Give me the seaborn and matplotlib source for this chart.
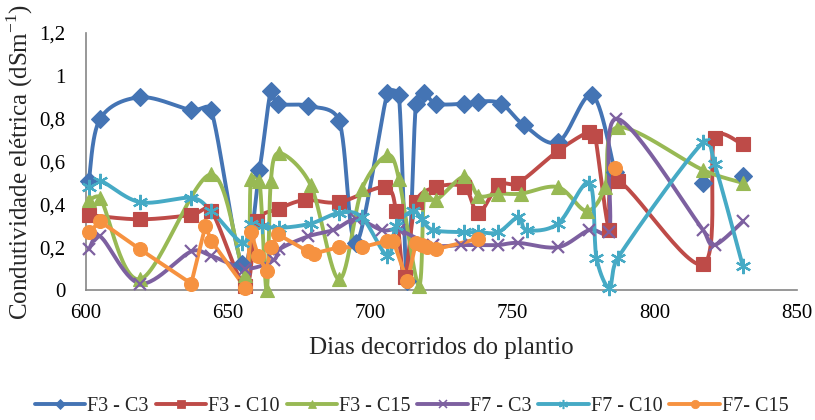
import numpy as np
import matplotlib
matplotlib.use('Agg')
import matplotlib.pyplot as plt
from matplotlib.lines import Line2D
import seaborn as sns

# Dados (dias decorridos do plantio x condutividade eletrica)
dias_f3c3 = [601, 605, 619, 637, 644, 655, 661, 665, 667.5, 678, 689, 695, 706, 710, 713, 716,
             719, 723, 733, 738, 746, 754, 766, 778, 786, 800, 817, 824, 831]
ce_f3c3 = [0.51, 0.80, 0.90, 0.84, 0.84, 0.12, 0.56, 0.93, 0.87, 0.86, 0.79, 0.22, 0.92, 0.91, 0.04, 0.87,
           0.92, 0.87, 0.87, 0.88, 0.87, 0.77, 0.69, 0.91, 0.55, np.nan, 0.50, np.nan, 0.53]

dias_f3c10 = [601, 619, 637, 644, 656, 660, 668, 677, 689, 705, 709, 712, 716, 723, 733, 738,
              745, 752, 766, 777, 779, 784, 787, 817, 821, 831]
ce_f3c10 = [0.35, 0.33, 0.35, 0.37, 0.02, 0.32, 0.38, 0.42, 0.41, 0.48, 0.37, 0.06, 0.41, 0.48, 0.48, 0.36,
            0.49, 0.50, 0.65, 0.74, 0.72, 0.28, 0.51, 0.12, 0.71, 0.68]

dias_f3c15 = [601, 605, 619, 644, 656, 658, 661, 663.5, 665, 668, 679, 689, 697, 706, 710, 717,
              719, 723, 733, 738, 745, 753, 766, 776, 782.5, 787, 817, 831]
ce_f3c15 = [0.42, 0.43, 0.05, 0.54, 0.07, 0.52, 0.51, 0.00, 0.51, 0.64, 0.49, 0.05, 0.47, 0.63, 0.52, 0.02,
            0.45, 0.42, 0.53, 0.44, 0.45, 0.45, 0.48, 0.37, 0.48, 0.76, 0.56, 0.50]

dias_f7c3 = [601, 605, 619, 637, 644, 656, 666, 668, 678, 687, 695, 704, 710, 722, 732, 738,
             745, 752, 766, 777, 784, 786.5, 817, 821, 831]
ce_f7c3 = [0.19, 0.25, 0.03, 0.18, 0.16, 0.10, 0.14, 0.19, 0.25, 0.28, 0.33, 0.28, 0.28, 0.21, 0.21, 0.21,
           0.21, 0.22, 0.20, 0.28, 0.27, 0.80, 0.28, 0.21, 0.32]

dias_f7c10 = [601, 605, 619, 637, 644, 655, 658, 662, 668, 679, 689, 697, 706, 709, 715, 718,
              722, 733, 738, 745, 752, 755, 766, 777, 779.5, 784, 787, 817, 821, 831]
ce_f7c10 = [0.48, 0.51, 0.41, 0.43, 0.37, 0.22, 0.31, 0.30, 0.29, 0.31, 0.36, 0.34, 0.16, 0.30, 0.37, 0.33,
            0.28, 0.27, 0.27, 0.27, 0.34, 0.28, 0.31, 0.50, 0.15, 0.01, 0.15, 0.69, 0.59, 0.11]

dias_f7c15 = [601, 605, 619, 637, 642, 644, 656, 658, 660.5, 663.5, 665, 667.5, 678, 680, 689, 697,
              706, 708, 713, 716, 718, 720, 723, 738, 760, 786]
ce_f7c15 = [0.27, 0.32, 0.19, 0.03, 0.30, 0.23, 0.01, 0.27, 0.16, 0.09, 0.20, 0.26, 0.18, 0.17, 0.20, 0.20,
            0.23, 0.23, 0.04, 0.22, 0.21, 0.20, 0.19, 0.24, np.nan, 0.57]

nomes = ['F3 - C3', 'F3 - C10', 'F3 - C15', 'F7 - C3', 'F7 - C10', 'F7- C15']
cores = ['#4474B4', '#BE4B48', '#98B954', '#7D60A0', '#46AAC5', '#F69240']
marcadores = ['D', 's', '^', 'x', (6, 2, 0), 'o']
tamanhos = [9, 10, 10, 9, 11, 10]
suave = [True, True, True, True, True, False]

series = [(dias_f3c3, ce_f3c3), (dias_f3c10, ce_f3c10), (dias_f3c15, ce_f3c15),
          (dias_f7c3, ce_f7c3), (dias_f7c10, ce_f7c10), (dias_f7c15, ce_f7c15)]

# escala aproximada em pixels (para suavizar como no Excel)
SX = 711 / 250
SY = 257 / 1.2


def trechos(d, v):
    d = np.asarray(d, float)
    v = np.asarray(v, float)
    ok = ~np.isnan(v)
    out = []
    ini = None
    for i in range(len(v) + 1):
        if i < len(v) and ok[i]:
            if ini is None:
                ini = i
        else:
            if ini is not None:
                out.append((d[ini:i], v[ini:i]))
                ini = None
    return out


def limita(vet, seg, f=0.45):
    n = np.hypot(*vet)
    lim = f * np.hypot(*seg)
    return vet if n <= lim or n == 0 else vet * lim / n


def suavizar(d, v, n=30):
    P = np.column_stack([(d - 600) * SX, v * SY])
    if len(P) < 3:
        return d, v
    pts = []
    t = np.linspace(0, 1, n)[:, None]
    for i in range(len(P) - 1):
        p0 = P[max(i - 1, 0)]
        p1 = P[i]
        p2 = P[i + 1]
        p3 = P[min(i + 2, len(P) - 1)]
        c1 = p1 + limita((p2 - p0) / 6, p2 - p1)
        c2 = p2 - limita((p3 - p1) / 6, p2 - p1)
        b = (1 - t) ** 3 * p1 + 3 * (1 - t) ** 2 * t * c1 + 3 * (1 - t) * t ** 2 * c2 + t ** 3 * p2
        pts.append(b if i == 0 else b[1:])
    pts = np.vstack(pts)
    return pts[:, 0] / SX + 600, pts[:, 1] / SY


sns.set_theme(style='white')
plt.rcParams['font.family'] = ['Liberation Serif', 'DejaVu Serif']
plt.rcParams['mathtext.fontset'] = 'custom'
plt.rcParams['mathtext.rm'] = 'Liberation Serif'

fig = plt.figure(figsize=(8.15, 4.2), dpi=100)
ax = fig.add_axes([86 / 815, 1 - 290 / 420, 711 / 815, 257 / 420])

handles = []
for (d, v), nome, cor, mk, ms, sv in zip(series, nomes, cores, marcadores, tamanhos, suave):
    for dd, vv in trechos(d, v):
        if len(dd) < 2:
            continue
        xs, ys = suavizar(dd, vv) if sv else (dd, vv)
        sns.lineplot(x=xs, y=ys, sort=False, estimator=None, color=cor, linewidth=2.8,
                     ax=ax, clip_on=False)
    mew = 1.6 if mk in ('x', (6, 2, 0)) else 0.8
    ax.plot(d, v, linestyle='none', marker=mk, markersize=ms, color=cor,
            markeredgecolor=cor, markeredgewidth=mew, clip_on=False, zorder=3)
    handles.append(Line2D([0], [0], color=cor, linewidth=2.8, marker=mk, markersize=ms * 0.6,
                          markeredgewidth=mew * 0.7))

ax.set_xlim(600, 850)
ax.set_ylim(0, 1.2)
ax.set_xticks(np.arange(600, 851, 50))
ax.set_yticks(np.arange(0, 1.21, 0.2))
ax.set_yticklabels(['0', '0,2', '0,4', '0,6', '0,8', '1', '1,2'])
ax.tick_params(axis='both', length=0, labelsize=15, colors='black')
ax.tick_params(axis='y', pad=15)
ax.tick_params(axis='x', pad=10)
for s in ['top', 'right']:
    ax.spines[s].set_visible(False)
for s in ['left', 'bottom']:
    ax.spines[s].set_color('#868686')
    ax.spines[s].set_linewidth(1.2)

ax.set_xlabel('Dias decorridos do plantio', fontsize=18, labelpad=10)
ax.set_ylabel(r'Condutividade elétrica (dSm$^{\mathregular{-1}}$)', fontsize=18, labelpad=3)

fig.legend(handles, nomes, loc='center', bbox_to_anchor=(0.505, 0.032), ncol=6, frameon=False,
           fontsize=14.5, handlelength=2.5, handletextpad=0.1, columnspacing=0.35)

fig.savefig('out.png', dpi=100)
